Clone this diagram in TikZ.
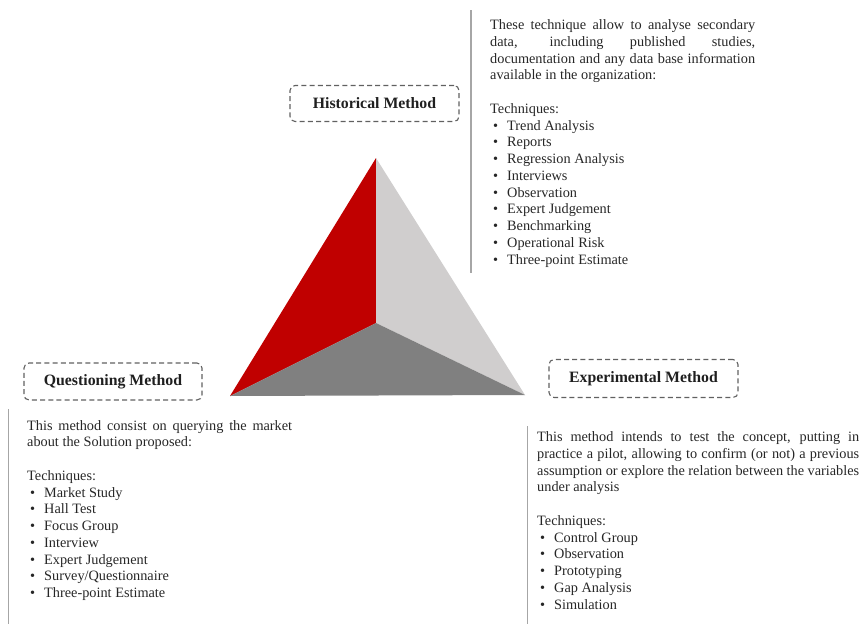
\documentclass[tikz,border=0pt]{standalone}
\usepackage{fontspec}
\setmainfont{Liberation Serif}
\definecolor{pyrred}{HTML}{C00000}
\definecolor{pyrlight}{HTML}{D0CECE}
\definecolor{pyrdark}{HTML}{808080}
\definecolor{bodytext}{HTML}{262626}
\definecolor{rulegray}{HTML}{A6A6A6}
\newcommand\bitem[1]{\par\noindent\makebox[17pt][l]{\hspace{3pt}\textbullet}#1}
\newcommand\loosejustify{\hyphenpenalty=10000 \tolerance=10000 \hbadness=10000\relax}
\tikzset{
  methodbox/.style={draw=black!62, dash pattern=on 5pt off 3.2pt, line width=1.1pt,
    rounded corners=5pt, minimum height=36pt, inner sep=0pt,
    font=\fontsize{15.8}{18}\selectfont\bfseries, text=black!88},
  infotext/.style={anchor=north west, inner sep=0pt, align=justify, text=bodytext,
    font=\fontsize{14.3}{16.75}\selectfont},
  siderule/.style={draw=rulegray, line width=1.3pt}
}
\begin{document}
\begin{tikzpicture}[x=1pt, y=-1pt]
\useasboundingbox (0,0) rectangle (863,624);

% pyramid faces
\coordinate (apex) at (376,158);
\coordinate (left) at (230,396);
\coordinate (right) at (525,395);
\coordinate (mid) at (376,323);
\fill[pyrred] (apex) -- (mid) -- (left) -- cycle;
\fill[pyrlight] (apex) -- (right) -- (mid) -- cycle;
\fill[pyrdark] (left) -- (mid) -- (right) -- cycle;

% method labels
\node[methodbox, minimum width=169pt] (hist) at (374.5,103.5) {Historical Method};
\node[methodbox, minimum width=178pt, minimum height=37pt] (quest) at (113,381.5) {Questioning Method};
\node[methodbox, minimum width=189pt, minimum height=38pt] (exper) at (643.5,378.5) {Experimental Method};

% side rules
\coordinate (histtop) at (471,10);
\coordinate (histbot) at (471,273);
\coordinate (questtop) at (8.5,409);
\coordinate (questbot) at (8.5,624);
\coordinate (expertop) at (527.5,426);
\coordinate (experbot) at (527.5,624);
\draw[siderule] (histtop) -- (histbot);
\draw[siderule] (questtop) -- (questbot);
\draw[siderule] (expertop) -- (experbot);

% descriptions
\node[infotext, text width=265pt] (histtext) at (490,19.5) {\loosejustify
These technique allow to analyse secondary\linebreak
data, including published studies,\linebreak
documentation and any data base information\linebreak
available in the organization:\par
\vskip\baselineskip
\noindent Techniques:
\bitem{Trend Analysis}
\bitem{Reports}
\bitem{Regression Analysis}
\bitem{Interviews}
\bitem{Observation}
\bitem{Expert Judgement}
\bitem{Benchmarking}
\bitem{Operational Risk}
\bitem{Three-point Estimate}};

\node[infotext, text width=265pt] (questtext) at (27,420) {\loosejustify
This method consist on querying the market\linebreak
about the Solution proposed:\par
\vskip\baselineskip
\noindent Techniques:
\bitem{Market Study}
\bitem{Hall Test}
\bitem{Focus Group}
\bitem{Interview}
\bitem{Expert Judgement}
\bitem{Survey/Questionnaire}
\bitem{Three-point Estimate}};

\node[infotext, text width=322pt] (expertext) at (537,431.5) {\loosejustify
This method intends to test the concept, putting in\linebreak
practice a pilot, allowing to confirm (or not) a previous\linebreak
assumption or explore the relation between the variables\linebreak
under analysis\par
\vskip\baselineskip
\noindent Techniques:
\bitem{Control Group}
\bitem{Observation}
\bitem{Prototyping}
\bitem{Gap Analysis}
\bitem{Simulation}};
\end{tikzpicture}
\end{document}
